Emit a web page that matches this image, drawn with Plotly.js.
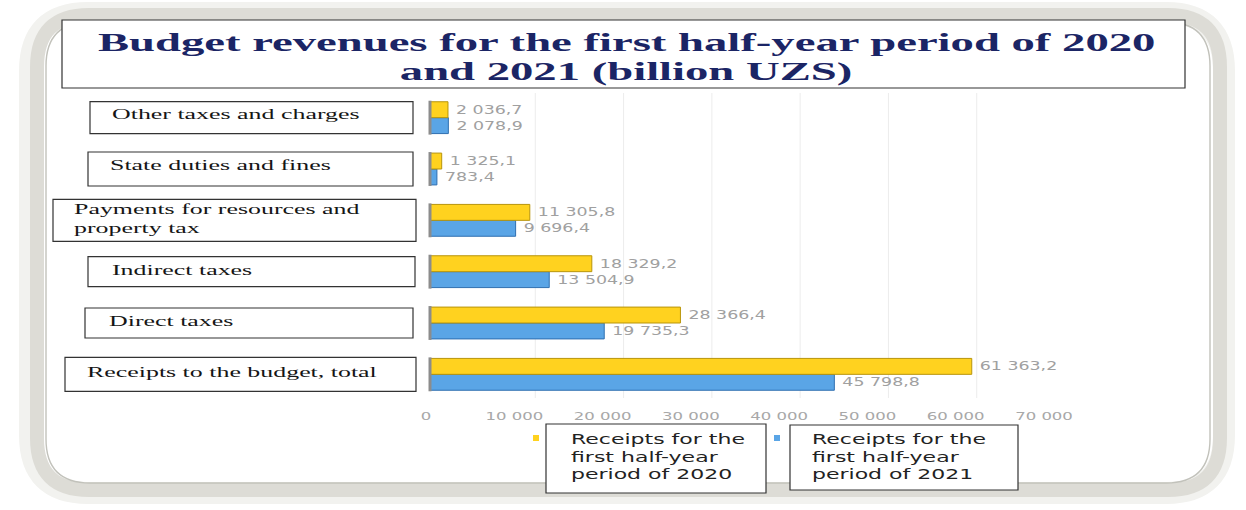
<!DOCTYPE html>
<html>
<head>
<meta charset="utf-8">
<script src="https://cdn.plot.ly/plotly-3.0.1.min.js"></script>
<style>html,body{margin:0;padding:0;background:#fff;}#chart{width:1246px;height:510px;}</style>
</head>
<body>
<div id="chart"></div>
<script>
// ---- data ----
var categories = [
  "Receipts to the budget, total",
  "Direct taxes",
  "Indirect taxes",
  "Payments for resources and<br>property tax",
  "State duties and fines",
  "Other taxes and charges"
];
var values2020 = [61363.2, 28366.4, 18329.2, 11305.8, 1325.1, 2036.7];
var values2021 = [45798.8, 19735.3, 13504.9, 9696.4, 783.4, 2078.9];
var seriesNames = [
  "Receipts for the<br>first half-year<br>period of 2020",
  "Receipts for the<br>first half-year<br>period of 2021"
];
var xTicks = [0, 10000, 20000, 30000, 40000, 50000, 60000, 70000];
var titleLines = ["Budget revenues for the first half-year period of 2020", "and 2021 (billion UZS)"];

// ---- layout helpers (pixel -> paper) ----
var W = 1246, H = 510, L = 430, R = 198, T = 92, B = 110;
var PW = W - L - R, PH = H - T - B;
function px(x) { return (x - L) / PW; }
function py(y) { return (H - B - y) / PH; }
var pxPerUnit = PW / 70000;

// category label box geometry: [left, right, text-left, half-height, text y shift] in px
var boxStyle = [
  [65, 416, 85, 17, 2],
  [85, 413, 107, 15, 2],
  [88, 415, 110, 15, 2],
  [53, 416, 72, 21, 1],
  [88, 413, 108, 17, 4],
  [90, 413, 110, 16, 4]
];
var catUnit = PH / categories.length;

var shapes = [];
var annotations = [];
var groups = {title: [], cat: [], legend: []};

function roundRect(x0, y0, x1, y1, r) {
  return "M" + px(x0 + r) + "," + py(y0) +
    " L" + px(x1 - r) + "," + py(y0) +
    " Q" + px(x1) + "," + py(y0) + " " + px(x1) + "," + py(y0 + r) +
    " L" + px(x1) + "," + py(y1 - r) +
    " Q" + px(x1) + "," + py(y1) + " " + px(x1 - r) + "," + py(y1) +
    " L" + px(x0 + r) + "," + py(y1) +
    " Q" + px(x0) + "," + py(y1) + " " + px(x0) + "," + py(y1 - r) +
    " L" + px(x0) + "," + py(y0 + r) +
    " Q" + px(x0) + "," + py(y0) + " " + px(x0 + r) + "," + py(y0) + " Z";
}
// outer rounded frame
shapes.push({type: "path", xref: "paper", yref: "paper", path: roundRect(30, 13, 1224, 493, 58),
  line: {color: "#f2f2ef", width: 22}, layer: "below"});
shapes.push({type: "path", xref: "paper", yref: "paper", path: roundRect(37, 15, 1220, 490, 52),
  line: {color: "#dddcd6", width: 14}, layer: "below"});
shapes.push({type: "path", xref: "paper", yref: "paper", path: roundRect(46, 22, 1210, 483, 44),
  line: {color: "#c2c2bb", width: 1.4}, layer: "below"});

// faint back-wall gridlines (offset like the 3D wall)
var wallOffset = 17 / pxPerUnit;
xTicks.forEach(function (v) {
  if (v === 0) return;
  shapes.push({type: "line", xref: "x", yref: "paper", x0: v + wallOffset, x1: v + wallOffset, y0: py(398), y1: py(93),
    line: {color: "#ececec", width: 1}, layer: "below"});
});

// title box + title lines
shapes.push({type: "rect", xref: "paper", yref: "paper", x0: px(62), x1: px(1185), y0: py(20), y1: py(88),
  line: {color: "#333", width: 1.2}, fillcolor: "#fff", layer: "below"});
[43, 71].forEach(function (yy, i) {
  groups.title.push(annotations.length);
  annotations.push({xref: "paper", yref: "paper", x: px(626), y: py(yy), xanchor: "center", yanchor: "middle",
    text: titleLines[i], showarrow: false,
    font: {family: "Liberation Serif", size: 26, color: "#1b2565", weight: "bold"}});
});

// category boxes + labels
categories.forEach(function (c, i) {
  var s = boxStyle[i];
  var hh = s[3] / catUnit;
  shapes.push({type: "rect", xref: "paper", yref: "y", x0: px(s[0]), x1: px(s[1]), y0: i - hh, y1: i + hh,
    line: {color: "#333", width: 1.2}, fillcolor: "#fff"});
  // 3D wall stub at the start of each bar pair
  shapes.push({type: "line", xref: "paper", yref: "y", x0: px(430), x1: px(430), y0: i - 0.33, y1: i + 0.33,
    line: {color: "#8c8c8c", width: 3}});
  groups.cat.push(annotations.length);
  annotations.push({xref: "paper", yref: "y", x: px(s[2]), y: i, xanchor: "left", yanchor: "middle",
    yshift: s[4], text: c, showarrow: false, align: "left",
    font: {family: "Liberation Serif", size: 15, color: "#151515"}});
});

// legend boxes
var legendBoxes = [[546, 766, 424, 493, 569, 536], [790, 1018, 425, 490, 810, 777]];
var legendColors = ["#FFD21F", "#5AA5E6"];
seriesNames.forEach(function (n, i) {
  var b = legendBoxes[i];
  shapes.push({type: "rect", xref: "paper", yref: "paper", x0: px(b[0]), x1: px(b[1]), y0: py(b[2]), y1: py(b[3]),
    line: {color: "#333", width: 1.2}, fillcolor: "#fff"});
  shapes.push({type: "rect", xref: "paper", yref: "paper", x0: px(b[5] - 3), x1: px(b[5] + 3), y0: py(435), y1: py(441),
    line: {width: 0}, fillcolor: legendColors[i]});
  groups.legend.push(annotations.length);
  annotations.push({xref: "paper", yref: "paper", x: px(b[4]), y: py(429), xanchor: "left", yanchor: "top",
    text: n, showarrow: false, align: "left",
    font: {family: "DejaVu Sans", size: 13.5, color: "#222"}});
});

var traces = [
  {
    type: "bar", orientation: "h", name: seriesNames[1], y: categories, x: values2021,
    marker: {color: "#5AA5E6", line: {color: "#2F6FB0", width: 1}},
    texttemplate: "%{x:,.1f}", textposition: "outside", cliponaxis: false,
    textfont: {family: "DejaVu Sans", size: 12, color: "#a0a0a0"}, hoverinfo: "x"
  },
  {
    type: "bar", orientation: "h", name: seriesNames[0], y: categories, x: values2020,
    marker: {color: "#FFD21F", line: {color: "#B8950A", width: 1}},
    texttemplate: "%{x:,.1f}", textposition: "outside", cliponaxis: false,
    textfont: {family: "DejaVu Sans", size: 12, color: "#a0a0a0"}, hoverinfo: "x"
  }
];

var layout = {
  width: W, height: H,
  margin: {l: L, r: R, t: T, b: B, pad: 0},
  paper_bgcolor: "#fff", plot_bgcolor: "rgba(0,0,0,0)",
  separators: ", ",
  showlegend: false,
  barmode: "group", bargap: 0.38, bargroupgap: 0,
  xaxis: {range: [0, 70000], tickvals: xTicks, tickformat: ",.0f", showgrid: false,
    zeroline: false, showline: false, ticks: "", ticklabelshift: -4,
    tickfont: {family: "DejaVu Sans", size: 11, color: "#a8a8a8"}, ticklabelstandoff: 8},
  yaxis: {showticklabels: false, showgrid: false, zeroline: false, showline: false, ticks: ""},
  shapes: shapes,
  annotations: annotations,
  font: {family: "DejaVu Sans"}
};

// horizontal stretch of text (the reference artwork is widened)
function stretch(el, k, anchor, dx) {
  var bb = el.getBBox();
  var ox = anchor === "left" ? bb.x : bb.x + bb.width / 2;
  var t = el.getAttribute("transform") || "";
  el.setAttribute("transform", t + " translate(" + (ox + (dx || 0)) + ",0) scale(" + k + ",1) translate(" + (-ox) + ",0)");
}
function annText(i) {
  return document.querySelector('#chart g.annotation[data-index="' + i + '"] text.annotation-text');
}
function groupFactor(el, target) { return target / el.getBBox().width; }

Plotly.newPlot("chart", traces, layout, {displayModeBar: false, staticPlot: true}).then(function () {
  var kt = groupFactor(annText(groups.title[0]), 1058);
  groups.title.forEach(function (i) { stretch(annText(i), kt, "center"); });

  var kc = groupFactor(annText(groups.cat[0]), 290);
  groups.cat.forEach(function (i) { stretch(annText(i), kc, "left"); });

  var kl = groupFactor(annText(groups.legend[0]), 174);
  groups.legend.forEach(function (i) { stretch(annText(i), kl, "left"); });

  document.querySelectorAll("#chart g.xtick text").forEach(function (el) { stretch(el, 1.5, "center"); });
  document.querySelectorAll("#chart text.bartext").forEach(function (el) { stretch(el, 1.45, "left", 5); });
});
</script>
</body>
</html>
